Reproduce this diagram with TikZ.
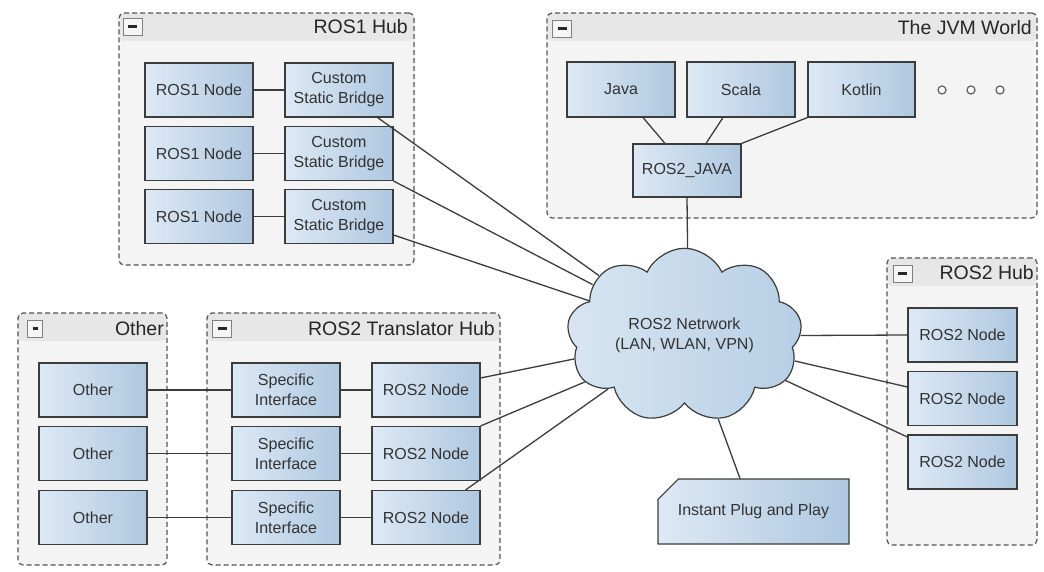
\documentclass[tikz,border=0pt]{standalone}
\usepackage{fontspec}
\setmainfont{Liberation Sans}
\usetikzlibrary{shapes.symbols,shapes.misc}
\definecolor{boxA}{HTML}{DDE9F5}
\definecolor{boxB}{HTML}{AFC8E0}
\definecolor{cloudA}{HTML}{D8E6F2}
\definecolor{cloudB}{HTML}{B6CEE4}
\definecolor{grpbody}{HTML}{F4F4F4}
\definecolor{grpband}{HTML}{E7E7E7}
\definecolor{grpline}{HTML}{555555}
\definecolor{edge}{HTML}{3C3C3C}
\definecolor{txt}{HTML}{333333}
\begin{document}
\begin{tikzpicture}[x=1pt,y=-1pt,
  box/.style={draw=edge, line width=1.1pt, left color=boxA, right color=boxB,
    minimum width=108pt, minimum height=54pt, inner sep=0pt, align=center,
    text=txt, font=\fontsize{16}{20}\selectfont},
  grp/.style={draw=grpline, dash pattern=on 5pt off 3pt, line width=1.2pt,
    rounded corners=5pt, fill=grpbody, inner sep=0pt,
    path picture={\fill[grpband] (path picture bounding box.north west)
      rectangle ([yshift=-28pt]path picture bounding box.north east);}},
  grptitle/.style={anchor=east, inner sep=0pt, text=black!85,
    font=\fontsize{19.5}{22}\selectfont},
  minus/.style={draw=gray, fill=white!92!gray, line width=0.8pt,
    minimum width=19pt, minimum height=17pt, inner sep=0pt,
    path picture={\draw[line width=2.2pt, black!85]
      ([xshift=5pt]path picture bounding box.west) --
      ([xshift=-5pt]path picture bounding box.east);}},
  dot/.style={circle, draw=black!60, fill=white, line width=1.3pt,
    minimum size=8pt, inner sep=0pt},
  conn/.style={draw=edge, line width=1.3pt}]
\useasboundingbox[fill=white] (0,0) rectangle (1044,572);

% groups
\node[grp, minimum width=295pt, minimum height=252pt] (g1) at (266.5,139) {};
\node[grptitle] (g1t) at (408,27) {ROS1 Hub};
\node[minus] (g1m) at (132.5,26.5) {};

\node[grp, minimum width=490pt, minimum height=205pt] (g2) at (792,115.5) {};
\node[grptitle] (g2t) at (1032,28) {The JVM World};
\node[minus] (g2m) at (562,28.5) {};

\node[grp, minimum width=150pt, minimum height=287pt] (g3) at (962,401.5) {};
\node[grptitle] (g3t) at (1034,273) {ROS2 Hub};
\node[minus] (g3m) at (902.5,273.5) {};

\node[grp, minimum width=149pt, minimum height=252pt] (g4) at (92.5,439) {};
\node[grptitle] (g4t) at (164,329) {Other};
\node[minus, minimum width=15pt] (g4m) at (35,328.5) {};

\node[grp, minimum width=293pt, minimum height=252pt] (g5) at (353.5,439) {};
\node[grptitle] (g5t) at (495,329) {ROS2 Translator Hub};
\node[minus] (g5m) at (222,328.5) {};

% ROS1 hub
\node[box] (r1a) at (199,90) {ROS1 Node};
\node[box] (r1b) at (199,153.5) {ROS1 Node};
\node[box] (r1c) at (199,216.5) {ROS1 Node};
\node[box] (b1) at (339,90) {Custom\\Static Bridge};
\node[box] (b2) at (339,153.5) {Custom\\Static Bridge};
\node[box] (b3) at (339,216.5) {Custom\\Static Bridge};

% JVM world
\node[box, minimum height=55pt] (java) at (621,89.5) {Java};
\node[box, minimum height=55pt] (scala) at (741,89.5) {Scala};
\node[box, minimum height=55pt, minimum width=107pt] (kotlin) at (861.5,89.5) {Kotlin};
\node[dot] (d1) at (942,90) {};
\node[dot] (d2) at (971,90) {};
\node[dot] (d3) at (1000,90) {};
\node[box, minimum height=53pt] (rj) at (687,170.5) {ROS2\_JAVA};

% cloud
\node[cloud, cloud puffs=9, cloud puff arc=130, aspect=1.4, draw=edge,
  line width=1.2pt, left color=cloudA, right color=cloudB,
  minimum width=235pt, minimum height=165pt, inner sep=0pt, align=center,
  text=txt, font=\fontsize{16}{20}\selectfont] (net) at (684.5,335.5)
  {ROS2 Netrwork\\(LAN, WLAN, VPN)};

% ROS2 hub
\node[box, minimum width=109pt] (h1) at (962.5,335) {ROS2 Node};
\node[box, minimum width=109pt] (h2) at (962.5,398.5) {ROS2 Node};
\node[box, minimum width=109pt] (h3) at (962.5,462) {ROS2 Node};

% Other
\node[box] (o1) at (93,390) {Other};
\node[box] (o2) at (93,453.5) {Other};
\node[box] (o3) at (93,517.5) {Other};

% Translator hub
\node[box] (s1) at (286,390) {Specific\\Interface};
\node[box] (s2) at (286,453.5) {Specific\\Interface};
\node[box] (s3) at (286,517.5) {Specific\\Interface};
\node[box] (t1) at (426,390) {ROS2 Node};
\node[box] (t2) at (426,453.5) {ROS2 Node};
\node[box] (t3) at (426,517.5) {ROS2 Node};

% Instant plug and play
\node[box, chamfered rectangle, chamfered rectangle corners=north west,
  chamfered rectangle xsep=14pt, chamfered rectangle ysep=13pt,
  minimum width=191pt, minimum height=65pt] (ip) at (753.5,511.5)
  {Instant Plug and Play};

% connectors
\draw[conn] (r1a.east) -- (b1.west);
\draw[conn] (r1b.east) -- (b2.west);
\draw[conn] (r1c.east) -- (b3.west);
\draw[conn] ([xshift=-16pt]b1.south east) -- (net.145);
\draw[conn] (b2.south east) -- (net.151);
\draw[conn] ([yshift=-18.5pt]b3.east) -- (net.160);

\draw[conn] ([xshift=22pt]java.south) -- ([xshift=-22pt]rj.north);
\draw[conn] ([xshift=-18pt]scala.south) -- ([xshift=19pt]rj.north);
\draw[conn] (kotlin.south west) -- (rj.north east);
\draw[conn] (rj.south) -- (net.88);

\draw[conn] (o1.east) -- (s1.west);
\draw[conn] (o2.east) -- (s2.west);
\draw[conn] (o3.east) -- (s3.west);
\draw[conn] (s1.east) -- (t1.west);
\draw[conn] (s2.east) -- (t2.west);
\draw[conn] (s3.east) -- (t3.west);
\draw[conn] ([yshift=12pt]t1.east) -- (net.192);
\draw[conn] (t2.north east) -- (net.205);
\draw[conn] ([xshift=-15pt]t3.north east) -- (net.215);

\draw[conn] (net.0) -- (h1.west);
\draw[conn] (net.347) -- ([yshift=11.5pt]h2.west);
\draw[conn] (net.336) -- ([yshift=25pt]h3.west);
\draw[conn] (net.292) -- ([xshift=-13.5pt]ip.north);
\end{tikzpicture}
\end{document}
